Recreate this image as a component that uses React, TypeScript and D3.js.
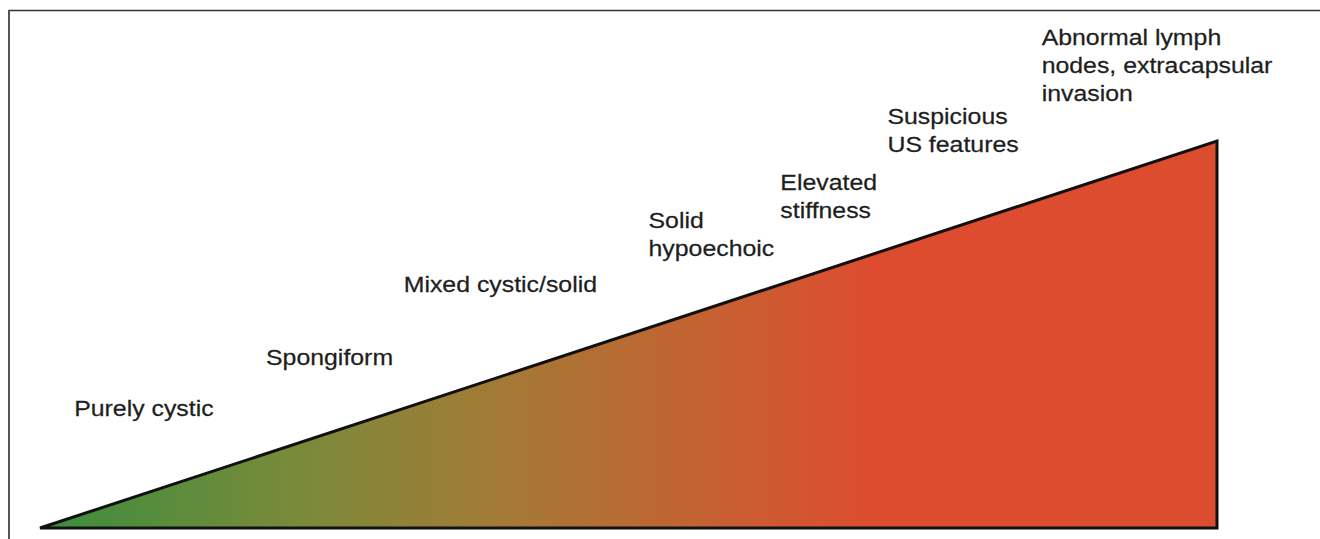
import React from "react";
import * as d3 from "d3";

// stages of the risk spectrum, from benign to malignant
const stages = [
  ["Purely cystic"],
  ["Spongiform"],
  ["Mixed cystic/solid"],
  ["Solid", "hypoechoic"],
  ["Elevated", "stiffness"],
  ["Suspicious", "US features"],
  ["Abnormal lymph", "nodes, extracapsular", "invasion"],
];

// label anchor, in risk units (x) and height units (y, top line baseline)
const stageX = [0.029, 0.192, 0.309, 0.517, 0.629, 0.72, 0.851];
const stageY = [0.289, 0.421, 0.61, 0.775, 0.873, 1.044, 1.248];

// gradient stops along the risk axis
const gradOffsets = [0, 0.22, 0.39, 0.56, 0.71, 1];
const gradColors = ["#3a8e3e", "#7a8a3a", "#a37a35", "#c46232", "#dd4c2f", "#dc4c2e"];

const W = 1320;
const H = 539;

export default function App() {
  const x = d3.scaleLinear().domain([0, 1]).range([40, 1217]);
  const y = d3.scaleLinear().domain([0, 1]).range([528, 141]);

  const tri = d3.line<[number, number]>()
    .x(d => x(d[0]))
    .y(d => y(d[1]));

  const triPts: [number, number][] = [[0, 0], [1, 1], [1, 0]];

  return (
    <svg width={W} height={H} style={{ position: "absolute", left: 0, top: 0, background: "#fff" }}>
      <defs>
        <linearGradient id="risk" gradientUnits="userSpaceOnUse" x1={x(0)} x2={x(1)} y1={0} y2={0}>
          {gradOffsets.map((o, i) => (
            <stop key={i} offset={o} stopColor={gradColors[i]} />
          ))}
        </linearGradient>
      </defs>

      {/* frame */}
      <line x1={8.5} y1={10.5} x2={W} y2={10.5} stroke="#333" strokeWidth={1.5} />
      <line x1={9} y1={10} x2={9} y2={H} stroke="#555" strokeWidth={2} />

      <path
        d={tri(triPts) + "Z"}
        fill="url(#risk)"
        stroke="#111"
        strokeWidth={3}
        strokeLinejoin="miter"
      />

      {stages.map((lines, i) => {
        const tx = x(stageX[i]);
        const ty = y(stageY[i]);
        return (
          <g key={i} transform={`translate(${tx},${ty}) scale(1.13,1)`}>
            <text
              fontFamily="'Liberation Sans', Arial, sans-serif"
              fontSize={22}
              fill="#1e1e1e"
              stroke="#1e1e1e"
              strokeWidth={0.25}
            >
              {lines.map((l, j) => (
                <tspan key={j} x={0} y={j * 28}>{l}</tspan>
              ))}
            </text>
          </g>
        );
      })}
    </svg>
  );
}
